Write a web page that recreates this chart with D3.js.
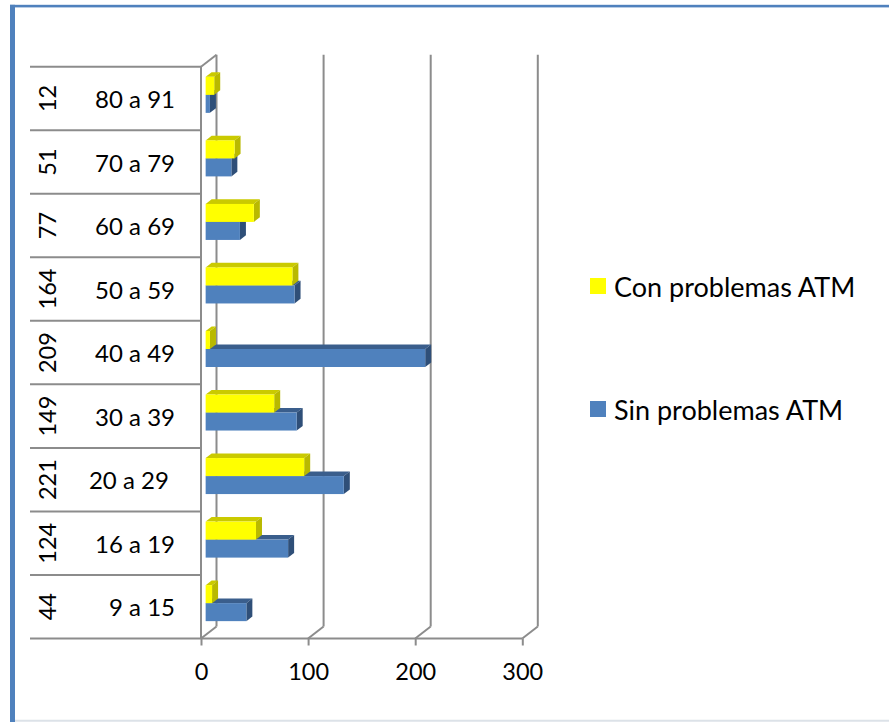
<!DOCTYPE html>
<html>
<head>
<meta charset="utf-8">
<script src="https://cdn.jsdelivr.net/npm/d3@7/dist/d3.min.js"></script>
<style>
html,body{margin:0;padding:0;background:#fff;}
svg{display:block;}
text{font-family:Lato,"Open Sans",sans-serif;fill:#000;}
</style>
</head>
<body>
<svg id="chart" width="889" height="722"></svg>
<script>
// ---- data (bottom to top) ----
const categories = ["9 a 15", "16 a 19", "20 a 29 ", "30 a 39", "40 a 49", "50 a 59", "60 a 69", "70 a 79", "80 a 91"];
const totals = [44, 124, 221, 149, 209, 164, 77, 51, 12];
const conProblemas = [6, 47, 92, 64, 4, 81, 45, 27, 8];
const sinProblemas = [38, 77, 129, 85, 205, 83, 32, 24, 4];
const seriesNames = ["Con problemas ATM", "Sin problemas ATM"];
const tickValues = [0, 100, 200, 300];

const colors = {
  con: {front: "#FFFF00", top: "#CACA00", side: "#B9B900"},
  sin: {front: "#4F81BD", top: "#3A5E8C", side: "#2F4F78"}
};

const svg = d3.select("#chart");

// frame
svg.append("rect").attr("x", 0).attr("y", 0).attr("width", 889).attr("height", 722).attr("fill", "#fff");
svg.append("line").attr("x1", 10).attr("x2", 889).attr("y1", 720.8).attr("y2", 720.8).attr("stroke", "#DCE2E8").attr("stroke-width", 2);
svg.append("rect").attr("x", 10).attr("y", 4.8).attr("width", 879).attr("height", 2.6).attr("fill", "#4F81BD");
svg.append("rect").attr("x", 10).attr("y", 4.8).attr("width", 5).attr("height", 722).attr("fill", "#4F81BD");

// geometry
const frontTop = 66.7, frontBottom = 638.5;
const depthX = 15.5, depthY = -12;
const x = d3.scaleLinear().domain([0, 300]).range([201, 522.3]);
const y = d3.scaleBand().domain(d3.range(categories.length).reverse()).range([frontTop, frontBottom]).paddingInner(0).paddingOuter(0);

const gridColor = "#8C8C8C";
const g = svg.append("g");

// back wall gridlines
tickValues.forEach(t => {
  g.append("line").attr("x1", x(t) + depthX).attr("x2", x(t) + depthX)
    .attr("y1", frontTop + depthY).attr("y2", frontBottom + depthY)
    .attr("stroke", gridColor).attr("stroke-width", 2);
  g.append("line").attr("x1", x(t)).attr("x2", x(t) + depthX)
    .attr("y1", frontBottom).attr("y2", frontBottom + depthY)
    .attr("stroke", gridColor).attr("stroke-width", 2);
});
// left wall front edge & top diagonal
g.append("line").attr("x1", x(0)).attr("x2", x(0)).attr("y1", frontTop).attr("y2", frontBottom)
  .attr("stroke", gridColor).attr("stroke-width", 2);
g.append("line").attr("x1", x(0)).attr("x2", x(0) + depthX).attr("y1", frontTop).attr("y2", frontTop + depthY)
  .attr("stroke", gridColor).attr("stroke-width", 2);

// category table lines
const rowEdges = d3.range(categories.length + 1).map(i => frontTop + i * y.bandwidth());
rowEdges.forEach((ry, i) => {
  g.append("line").attr("x1", 30).attr("x2", i === categories.length ? x(300) : x(0))
    .attr("y1", ry).attr("y2", ry).attr("stroke", gridColor).attr("stroke-width", 2);
});

// bottom axis
const axis = d3.axisBottom(x).tickValues(tickValues).tickSize(7).tickPadding(18).tickFormat(d3.format("d"));
const ax = svg.append("g").attr("transform", `translate(0,${frontBottom})`).call(axis);
ax.select(".domain").remove();
ax.selectAll(".tick line").attr("stroke", gridColor).attr("stroke-width", 2);
ax.selectAll(".tick text").style("font-family", "Lato, sans-serif").style("font-size", "23.5px").attr("fill", "#000");

// bars
const f = 0.3; // depth position of bar front face
const barDX = 6, barDY = -4.6;
const barH = 18;
const offX = f * depthX, offY = f * depthY;
const xb = v => x(v) + offX;

function bar(v, yTop, c) {
  const x0 = xb(0), x1 = xb(v);
  const bg = g.append("g");
  bg.append("path").attr("d", `M${x0},${yTop}L${x0 + barDX},${yTop + barDY}L${x1 + barDX},${yTop + barDY}L${x1},${yTop}Z`).attr("fill", c.top);
  bg.append("path").attr("d", `M${x1},${yTop}L${x1 + barDX},${yTop + barDY}L${x1 + barDX},${yTop + barDY + barH}L${x1},${yTop + barH}Z`).attr("fill", c.side);
  bg.append("rect").attr("x", x0).attr("y", yTop).attr("width", x1 - x0).attr("height", barH).attr("fill", c.front);
}

categories.forEach((cat, i) => {
  const cy = y(i) + y.bandwidth() / 2 + offY;
  bar(sinProblemas[i], cy, colors.sin);
  bar(conProblemas[i], cy - barH, colors.con);
});

// category labels
categories.forEach((cat, i) => {
  const cy = y(i) + y.bandwidth() / 2;
  svg.append("text").attr("x", 175).attr("y", cy).attr("text-anchor", "end")
    .attr("dominant-baseline", "central").attr("xml:space", "preserve").style("white-space", "pre")
    .style("font-size", "24px").text(cat);
  svg.append("text").attr("transform", `translate(47,${cy}) rotate(-90)`).attr("text-anchor", "middle")
    .attr("dominant-baseline", "central").style("font-size", "23.5px").text(totals[i]);
});

// legend
const legendY = [286, 409];
const legendColors = [colors.con.front, colors.sin.front];
seriesNames.forEach((name, i) => {
  svg.append("rect").attr("x", 590).attr("y", legendY[i] - 8).attr("width", 16).attr("height", 16).attr("fill", legendColors[i]);
  svg.append("text").attr("x", 614).attr("y", legendY[i]).attr("dominant-baseline", "central")
    .style("font-size", "27px").text(name);
});
</script>
</body>
</html>
